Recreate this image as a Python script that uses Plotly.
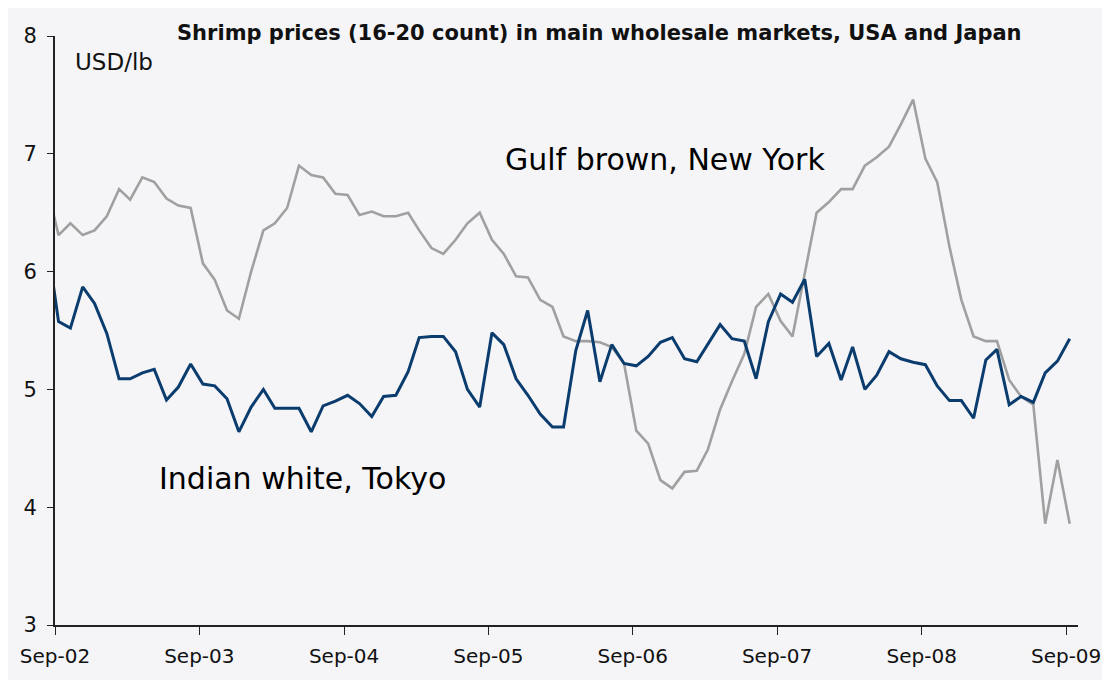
import pandas as pd
import plotly.graph_objects as go

# Monthly observations (first value lies just left of the axis start and is clipped)
months = pd.date_range("2002-08-01", "2009-09-01", freq="MS")

gulf_brown_ny = [
    6.75,
    6.31, 6.41, 6.31, 6.35, 6.47, 6.70, 6.61, 6.80, 6.76, 6.62, 6.56, 6.54, 6.07, 5.93,
    5.67, 5.60, 6.00, 6.35, 6.41, 6.54, 6.90, 6.82, 6.80, 6.66, 6.65, 6.48, 6.51, 6.47,
    6.47, 6.50, 6.35, 6.20, 6.15, 6.27, 6.41, 6.50, 6.27, 6.15, 5.96, 5.95, 5.76,
    5.70, 5.45, 5.41, 5.41, 5.40, 5.36, 5.22, 4.65, 4.54, 4.23, 4.16, 4.30, 4.31, 4.49,
    4.83, 5.07, 5.30, 5.70, 5.81, 5.58, 5.45, 5.97, 6.50, 6.59, 6.70, 6.70, 6.90, 6.97,
    7.06, 7.25, 7.46, 6.96, 6.76, 6.21, 5.76, 5.45, 5.41, 5.41, 5.08, 4.94, 4.87, 3.86, 4.40, 3.86,
]

indian_white_tokyo = [
    6.30,
    5.575, 5.52, 5.87, 5.73, 5.475, 5.09, 5.09, 5.14, 5.17, 4.91, 5.02, 5.215, 5.045, 5.03,
    4.92, 4.64, 4.85, 5.00, 4.84, 4.84, 4.84, 4.64, 4.86, 4.90, 4.95, 4.88, 4.77, 4.94,
    4.95, 5.15, 5.44, 5.45, 5.45, 5.32, 5.00, 4.85, 5.48, 5.38, 5.09, 4.95, 4.79,
    4.68, 4.68, 5.33, 5.67, 5.065, 5.38, 5.22, 5.20, 5.28, 5.40, 5.44, 5.26, 5.235, 5.38,
    5.55, 5.43, 5.41, 5.09, 5.575, 5.81, 5.74, 5.935, 5.28, 5.39, 5.08, 5.36, 5.00, 5.12,
    5.32, 5.26, 5.23, 5.21, 5.03, 4.905, 4.905, 4.755, 5.25, 5.34, 4.87, 4.94, 4.89, 5.14, 5.24, 5.43,
]

tick_dates = pd.date_range("2002-09-01", "2009-09-01", freq="12MS")
tick_labels = ["Sep-02", "Sep-03", "Sep-04", "Sep-05", "Sep-06", "Sep-07", "Sep-08", "Sep-09"]
y_ticks = [3, 4, 5, 6, 7, 8]

title_text = "Shrimp prices (16-20 count) in main wholesale markets, USA and Japan"
unit_text = "USD/lb"
label_gulf = "Gulf brown, New York"
label_indian = "Indian white, Tokyo"

x_dates = months + pd.Timedelta(days=9)

BG = "#F5F5F8"
FONT = "DejaVu Sans"

fig = go.Figure()
fig.add_trace(go.Scatter(
    x=x_dates, y=gulf_brown_ny, mode="lines", name=label_gulf,
    line=dict(color="#A0A0A0", width=2.6), hoverinfo="x+y",
))
fig.add_trace(go.Scatter(
    x=x_dates, y=indian_white_tokyo, mode="lines", name=label_indian,
    line=dict(color="#0B3C6E", width=3), hoverinfo="x+y",
))

fig.update_layout(
    width=1110, height=680,
    margin=dict(l=43, r=40, t=28, b=63),
    paper_bgcolor=BG, plot_bgcolor=BG,
    showlegend=False,
    font=dict(family=FONT, color="#111111", size=18),
)

fig.update_xaxes(
    type="date",
    range=["2002-09-01", "2009-10-01"],
    tickvals=tick_dates, ticktext=tick_labels,
    ticks="outside", ticklen=8, tickwidth=1.2, tickcolor="#222222",
    showline=True, linecolor="#222222", linewidth=1.8,
    showgrid=False, zeroline=False,
    ticklabelstandoff=4,
    tickfont=dict(family=FONT, size=20, color="#111111"),
)
fig.update_yaxes(
    range=[3, 8],
    tickvals=y_ticks,
    ticks="outside", ticklen=6, tickwidth=1.2, tickcolor="#222222",
    showline=True, linecolor="#222222", linewidth=1.8,
    showgrid=False, zeroline=False,
    ticklabelstandoff=6,
    tickfont=dict(family=FONT, size=21, color="#111111"),
)

fig.add_annotation(
    text="<b>" + title_text + "</b>", xref="paper", yref="paper",
    x=0.532, y=1.005, xanchor="center", yanchor="middle", showarrow=False,
    font=dict(family=FONT, size=21, color="#111111"),
)
fig.add_annotation(
    text=unit_text, xref="paper", yref="paper",
    x=0.018, y=0.956, xanchor="left", yanchor="middle", showarrow=False,
    font=dict(family=FONT, size=23, color="#111111"),
)
fig.add_annotation(
    text=label_gulf, xref="paper", yref="paper",
    x=0.438, y=0.791, xanchor="left", yanchor="middle", showarrow=False,
    font=dict(family=FONT, size=30, color="#000000"),
)
fig.add_annotation(
    text=label_indian, xref="paper", yref="paper",
    x=0.100, y=0.248, xanchor="left", yanchor="middle", showarrow=False,
    font=dict(family=FONT, size=30, color="#000000"),
)

fig.write_html("out.html")
